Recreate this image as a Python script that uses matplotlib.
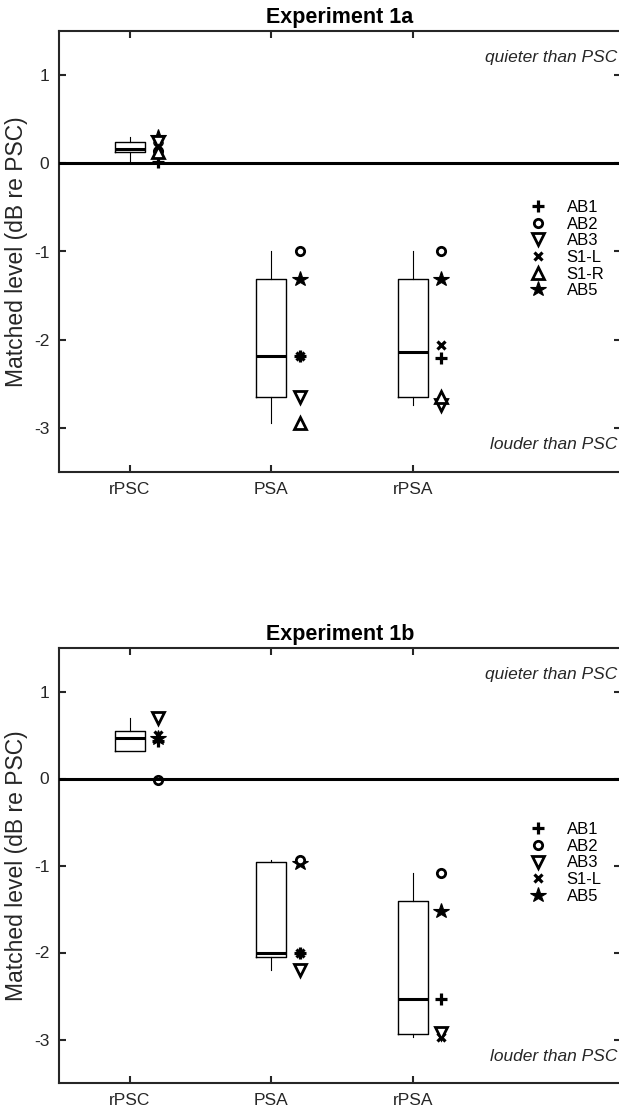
import numpy as np
import matplotlib.pyplot as plt

plt.rcParams['font.family'] = ['Liberation Sans', 'DejaVu Sans']
plt.rcParams['axes.unicode_minus'] = False

conditions = ['rPSC', 'PSA', 'rPSA']
positions = [1, 2, 3]

# Experiment 1a, matched level (dB re PSC), one value per condition
ab1_1a = [0.02, -2.19, -2.21]
ab2_1a = [0.14, -1.00, -1.00]
ab3_1a = [0.24, -2.65, -2.74]
s1l_1a = [0.19, -2.19, -2.06]
s1r_1a = [0.13, -2.94, -2.65]
ab5_1a = [0.30, -1.31, -1.31]

# Experiment 1b (no S1-R)
ab1_1b = [0.43, -2.00, -2.54]
ab2_1b = [-0.02, -0.94, -1.09]
ab3_1b = [0.69, -2.20, -2.93]
s1l_1b = [0.50, -2.00, -2.97]
ab5_1b = [0.46, -0.97, -1.52]

legend_order = ['AB1', 'AB2', 'AB3', 'S1-L', 'S1-R', 'AB5']
marker_style = {
    'AB1': dict(marker='+', ms=8, mew=2.3),
    'AB2': dict(marker='o', ms=6, mew=2, mfc='white'),
    'AB3': dict(marker='v', ms=8.5, mew=2, mfc='white'),
    'S1-L': dict(marker='x', ms=5.5, mew=2.3),
    'S1-R': dict(marker='^', ms=8.5, mew=2, mfc='white'),
    'AB5': dict(marker='*', ms=11.5, mew=0.8),
}
draw_order = ['AB1', 'S1-L', 'AB5', 'AB2', 'AB3', 'S1-R']

dark = '#262626'


def box_stats(values, whis=1.25):
    # matlab-ish quartiles
    stats = []
    for col in np.array(values).T:
        q1, med, q3 = np.percentile(col, [25, 50, 75], method='hazen')
        iqr = q3 - q1
        inside = col[(col >= q1 - whis * iqr) & (col <= q3 + whis * iqr)]
        stats.append(dict(med=med, q1=q1, q3=q3,
                          whislo=min(inside.min(), q1),
                          whishi=max(inside.max(), q3),
                          fliers=[]))
    return stats


def panel(ax, title, data, leg_y):
    names = [n for n in draw_order if n in data]
    values = [data[n] for n in legend_order if n in data]
    ax.bxp(box_stats(values), positions=positions, widths=0.21,
           showcaps=False, showfliers=False,
           boxprops=dict(color='k', lw=1.0),
           whiskerprops=dict(color='k', lw=0.8),
           medianprops=dict(color='k', lw=2.2))
    handles = {}
    for n in names:
        h, = ax.plot(np.array(positions) + 0.2, data[n], ls='none', color='k',
                     zorder=3, label=n, **marker_style[n])
        handles[n] = h
    ax.axhline(0, color='k', lw=2.2, zorder=4)

    ax.set_xlim(0.5, 4.47)
    ax.set_ylim(-3.5, 1.5)
    ax.set_xticks(positions)
    ax.set_xticklabels(conditions)
    ax.set_yticks([1, 0, -1, -2, -3])
    ax.tick_params(direction='in', top=True, right=True, length=5, width=1.5,
                   labelsize=12.5, pad=7, color=dark, labelcolor=dark)
    for s in ax.spines.values():
        s.set_linewidth(1.5)
        s.set_color(dark)
    ax.set_title(title, fontsize=15.5, fontweight='bold', pad=6)
    ax.set_ylabel('Matched level (dB re PSC)', fontsize=16.5, color=dark)
    ax.yaxis.set_label_coords(-0.055, 0.5)

    ax.text(0.993, 0.94, 'quieter than PSC', transform=ax.transAxes,
            ha='right', va='center', style='italic', fontsize=12.5, color=dark)
    ax.text(0.993, 0.062, 'louder than PSC', transform=ax.transAxes,
            ha='right', va='center', style='italic', fontsize=12.5, color=dark)

    ax.legend([handles[n] for n in legend_order if n in handles],
              [n for n in legend_order if n in handles],
              loc='upper left', bbox_to_anchor=(0.838, leg_y), frameon=False,
              fontsize=12, borderpad=0, borderaxespad=0, handlelength=1.0,
              handletextpad=1.2, labelspacing=0.1)


fig = plt.figure(figsize=(6.19, 11.1), dpi=100)
ax1 = fig.add_axes([59 / 619, 1 - 472 / 1110, 562 / 619, 441 / 1110])
ax2 = fig.add_axes([59 / 619, 1 - 1083 / 1110, 562 / 619, 435 / 1110])

panel(ax1, 'Experiment 1a',
      {'AB1': ab1_1a, 'AB2': ab2_1a, 'AB3': ab3_1a,
       'S1-L': s1l_1a, 'S1-R': s1r_1a, 'AB5': ab5_1a}, 0.617)
panel(ax2, 'Experiment 1b',
      {'AB1': ab1_1b, 'AB2': ab2_1b, 'AB3': ab3_1b,
       'S1-L': s1l_1b, 'AB5': ab5_1b}, 0.600)

fig.savefig('out.png', dpi=100)
